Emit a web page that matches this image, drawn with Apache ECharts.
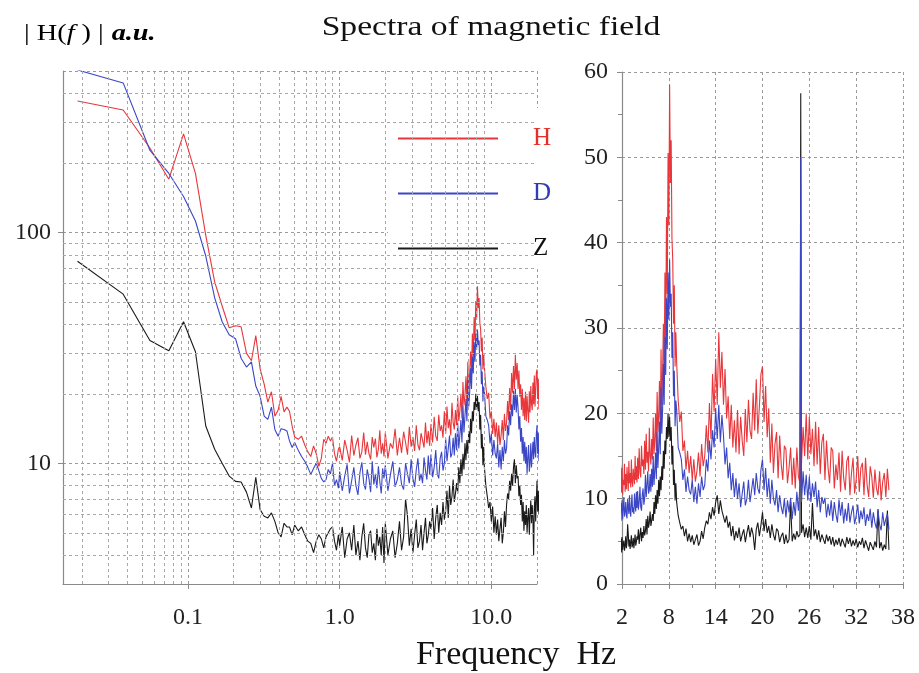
<!DOCTYPE html>
<html><head><meta charset="utf-8">
<script src="https://cdn.jsdelivr.net/npm/echarts@6/dist/echarts.min.js"></script>
<style>html,body{margin:0;padding:0;background:#fff}#c{width:919px;height:673px}</style>
</head><body><div id="c"></div>
<script>
// ---- data ----
const freqs = [
  0.0187, 0.0374, 0.0561, 0.0748, 0.0935, 0.112, 0.131, 0.150, 0.168, 0.187, 0.206, 0.224, 0.243, 0.262, 0.280, 0.299,
  0.318, 0.336, 0.355, 0.374, 0.393, 0.411, 0.430, 0.449, 0.467, 0.486, 0.505, 0.533, 0.561, 0.589, 0.617, 0.645, 0.673, 0.701, 0.729, 0.757, 0.785, 0.813, 0.841, 0.869, 0.897, 0.925, 0.953, 0.981,
  1.00, 1.04, 1.08, 1.12, 1.16, 1.20, 1.24, 1.28, 1.32, 1.36, 1.40, 1.44, 1.48, 1.52, 1.56, 1.60, 1.64, 1.68, 1.72, 1.76, 1.80, 1.84, 1.88, 1.92, 1.96,
  2.00, 2.08, 2.16, 2.24, 2.32, 2.40, 2.48, 2.56, 2.64, 2.72, 2.80, 2.88, 2.96, 3.04, 3.12, 3.20, 3.28, 3.36, 3.44, 3.52, 3.60, 3.68, 3.76, 3.84, 3.92,
  4.0, 4.1, 4.2, 4.3, 4.4, 4.5, 4.6, 4.7, 4.8, 4.9,
  5.0, 5.1, 5.2, 5.3, 5.4, 5.5, 5.6, 5.7, 5.8, 5.9,
  6.0, 6.1, 6.2, 6.3, 6.4, 6.5, 6.6, 6.7, 6.8, 6.9,
  7.0, 7.1, 7.2, 7.3, 7.4, 7.5, 7.6, 7.7, 7.8, 7.9,
  8.0, 8.1, 8.2, 8.3, 8.4, 8.5, 8.6, 8.7, 8.8, 8.9,
  9.0, 9.2, 9.4, 9.6, 9.8, 10.0, 10.2, 10.4, 10.6, 10.8, 11.0, 11.2, 11.4, 11.6, 11.8, 12.0, 12.2, 12.4, 12.6, 12.8,
  13.0, 13.2, 13.4, 13.6, 13.8, 14.0, 14.2, 14.4, 14.6, 14.8, 15.0, 15.2, 15.4, 15.6, 15.8, 16.0, 16.2, 16.4, 16.6, 16.8,
  17.0, 17.2, 17.4, 17.6, 17.8, 18.0, 18.2, 18.4, 18.6, 18.8, 19.0, 19.2, 19.4, 19.6, 19.8, 20.0, 20.2, 20.4, 20.6, 20.8,
  21.0, 21.2, 21.4, 21.6, 21.8, 22.0, 22.2, 22.4, 22.6, 22.8, 23.0, 23.2, 23.4, 23.6, 23.8, 24.0, 24.2, 24.4, 24.6, 24.8, 24.9,
  25.0, 25.2, 25.4, 25.6, 25.8, 26.0, 26.2, 26.4, 26.6, 26.8, 27.0, 27.2, 27.4, 27.6, 27.8, 28.0, 28.2, 28.4, 28.6, 28.8,
  29.0, 29.2, 29.4, 29.6, 29.8, 30.0, 30.2, 30.4, 30.6, 30.8, 31.0, 31.2, 31.4, 31.6, 31.8, 32.0, 32.2, 32.4, 32.6, 32.8,
  33.0, 33.2, 33.4, 33.6, 33.8, 34.0, 34.2, 34.4, 34.6, 34.8, 35.0, 35.2, 35.4, 35.6, 35.8, 36.0, 36.2
];
const H = [
  371, 339, 232, 170, 267, 180, 97, 61, 48, 38.6, 39.4, 39.0, 30.0, 27.8, 35.7, 25.6,
  22, 18.4, 20.4, 16, 17, 19.5, 16.7, 17.5, 16.8, 14.5, 13, 12.7, 13.1, 12.0, 11.2, 10.7, 11.9, 11.0, 9.7, 10.5, 12.7, 12.2, 13.1, 12.5, 13.0, 11.0, 10.2, 11.5,
  11.8, 10.3, 12.6, 11.4, 10.1, 13.2, 10.8, 12.0, 12.9, 10.5, 11.2, 13.6, 10.9, 12.4, 11.0, 10.4, 13.0, 11.7, 12.8, 10.6, 11.5, 13.9, 11.0, 12.2, 10.7,
  13.6, 10.5, 12.2, 11.6, 14.1, 10.8, 12.9, 11.1, 13.7, 12.3, 10.9, 14.4, 11.8, 13.0, 11.3, 14.6, 12.0, 11.4, 13.5, 12.6, 11.7, 15.0, 12.2, 13.8, 11.9,
  14.8, 12.3, 15.9, 13.1, 12.5, 16.2, 13.8, 14.6, 12.9, 16.8,
  13.4, 17.6, 14.2, 15.5, 13.2, 18.3, 15.0, 14.0, 17.0, 14.6,
  19.5, 15.2, 16.8, 20.0, 15.6, 22.5, 17.8, 19.6, 23.8, 18.0,
  27.5, 21.0, 24.6, 30.5, 25.0, 36.5, 29.0, 43.0, 34.0, 50.5,
  42.0, 58.5, 47.0, 52.0, 40.5, 38.0, 30.5, 35.0, 25.5, 29.5,
  26.0, 21.5, 19.0, 20.2, 15.6, 16.8, 13.4, 15.6, 13.0, 15.0, 12.2, 14.6, 12.0, 13.2, 15.4, 12.6, 16.4, 13.8, 15.0, 18.6,
  15.4, 21.2, 17.0, 24.6, 20.2, 26.4, 21.0, 29.5, 23.0, 27.2, 21.0, 25.2, 19.4, 22.0, 17.0, 21.0, 16.0, 19.2, 15.4, 20.4,
  15.2, 19.6, 16.8, 15.0, 20.5, 16.6, 21.6, 18.0, 17.0, 22.4, 18.0, 24.0, 17.6, 20.8, 24.6, 25.5, 19.0, 23.2, 17.2, 20.6,
  14.2, 18.8, 13.0, 16.4, 17.8, 12.4, 17.4, 14.0, 12.2, 16.2, 15.8, 11.8, 13.6, 16.0, 11.6, 14.8, 11.2, 16.0, 12.6, 11.8, 34.0,
  14.2, 18.4, 15.0, 20.0, 14.6, 19.6, 15.2, 18.2, 13.8, 19.0, 14.0, 18.4, 12.9, 16.6, 17.6, 12.2, 16.8, 13.6, 11.8, 16.0,
  15.6, 11.2, 14.0, 12.2, 15.4, 10.8, 15.6, 12.4, 11.0, 14.4, 15.0, 10.4, 13.0, 14.8, 10.6, 12.2, 15.0, 10.8, 13.6, 14.2,
  10.4, 14.8, 11.6, 10.2, 13.8, 12.6, 10.1, 13.4, 11.2, 10.4, 13.2, 9.8, 12.0, 13.0, 10.2, 13.5, 11.0
];
const D = [
  505, 444, 227, 180, 143, 112, 79, 52, 41, 36, 34.6, 28.5, 26.1, 27.5, 21.6, 19.5,
  16, 15.5, 17.5, 14, 13.1, 14.1, 14, 13.8, 12.5, 11.7, 12.3, 11.4, 10.7, 10.2, 9.6, 8.95, 9.5, 10.0, 9.3, 8.6, 8.3, 8.5, 9.4, 9.0, 10.0, 8.0, 8.5, 7.8,
  9.2, 7.6, 8.8, 9.9, 7.4, 8.4, 9.6, 8.0, 7.3, 9.1, 10.1, 8.2, 7.7, 9.4, 8.6, 7.5, 10.2, 8.1, 9.0, 7.8, 9.7, 8.3, 7.4, 9.5, 8.6,
  9.8, 7.6, 8.9, 10.2, 7.9, 8.5, 9.6, 8.1, 7.7, 10.0, 9.0, 8.2, 10.4, 8.6, 7.9, 9.4, 10.5, 8.4, 9.0, 8.2, 10.6, 9.3, 8.5, 10.8, 8.9,
  10.9, 8.7, 9.6, 11.4, 9.0, 8.6, 10.5, 11.2, 9.3, 10.0,
  12.8, 10.2, 11.6, 13.2, 10.6, 11.0, 12.9, 10.8, 13.5, 11.4,
  15.0, 11.6, 13.2, 15.4, 12.3, 17.8, 13.6, 16.0, 19.0, 15.2,
  23.0, 17.6, 20.4, 25.8, 21.0, 29.0, 24.5, 33.5, 27.5, 36.5,
  31.0, 38.0, 32.5, 34.0, 26.5, 29.5, 22.0, 25.0, 18.5, 21.5,
  20.5, 16.0, 15.4, 14.6, 12.2, 13.4, 10.8, 12.6, 11.0, 10.5, 12.2, 9.6, 11.4, 9.4, 11.8, 10.2, 12.6, 11.0, 11.6, 14.6,
  13.2, 16.8, 14.6, 18.0, 16.0, 20.6, 17.0, 21.0, 16.6, 19.8, 17.4, 14.0, 16.0, 12.4, 14.2, 11.0, 13.0, 10.2, 12.4, 10.0,
  11.8, 9.0, 10.6, 12.0, 9.2, 10.0, 12.2, 9.6, 11.0, 12.4, 10.4, 13.0, 11.2, 10.6, 13.4, 14.6, 11.0, 13.6, 10.2, 12.4,
  9.4, 12.2, 10.0, 9.2, 11.0, 8.4, 10.4, 9.0, 8.2, 10.0, 7.8, 9.8, 8.4, 10.1, 7.6, 9.6, 8.0, 10.8, 8.6, 11.6, 50.0,
  9.6, 13.2, 10.4, 12.8, 9.8, 12.6, 9.6, 11.8, 10.2, 12.0, 9.0, 11.0, 8.4, 10.2, 9.4, 10.1, 7.8, 9.4, 8.0, 9.8,
  7.4, 9.6, 8.2, 7.2, 9.9, 8.0, 9.6, 7.1, 8.8, 7.4, 9.5, 7.2, 8.4, 9.2, 7.0, 8.0, 9.3, 7.1, 8.6, 7.6,
  9.0, 6.8, 8.2, 7.4, 8.8, 6.6, 8.4, 7.2, 6.5, 8.6, 7.0, 6.3, 8.4, 6.8, 7.6, 8.2, 6.4
];
const Z = [
  75, 54, 34, 30.7, 41, 30.4, 14.5, 11.5, 10.0, 8.8, 8.35, 8.3, 7.5, 6.4, 8.7, 6.3,
  5.9, 5.8, 6.1, 5.6, 5.0, 4.8, 5.5, 5.3, 5.3, 4.9, 5.4, 5.1, 5.3, 4.9, 4.6, 4.5, 4.1, 4.6, 4.9, 4.7, 4.3, 4.8, 5.0, 5.2, 5.3, 4.6, 4.2, 4.9,
  4.4, 5.3, 3.9, 4.7, 5.0, 4.2, 5.4, 4.0, 4.6, 3.8, 4.8, 5.5, 4.3, 3.9, 4.9, 5.1, 4.1, 4.5, 3.8, 5.2, 4.4, 4.8, 4.0, 5.3, 3.7,
  5.5, 4.0, 4.7, 5.1, 3.9, 4.5, 5.6, 4.2, 4.8, 7.0, 5.9, 4.4, 5.2, 4.1, 4.9, 5.7, 4.3, 4.6, 5.4, 4.2, 5.0, 5.8, 4.5, 4.9, 5.6,
  5.2, 6.4, 4.7, 5.8, 6.6, 5.0, 6.1, 5.4, 6.8, 5.7,
  6.2, 7.6, 5.8, 8.0, 6.6, 7.2, 8.5, 6.8, 7.4, 8.2,
  7.4, 9.6, 8.2, 10.4, 8.8, 11.0, 9.4, 12.2, 10.3, 12.6,
  11.0, 13.8, 12.2, 15.6, 13.5, 16.8, 15.2, 18.4, 17.0, 20.0,
  17.2, 19.6, 16.8, 18.4, 14.0, 16.2, 11.6, 13.4, 9.8, 11.8,
  9.6, 8.0, 7.2, 6.4, 6.8, 5.6, 6.5, 5.0, 5.9, 4.9, 5.7, 4.6, 5.2, 5.8, 4.5, 5.0, 6.2, 5.3, 6.6, 7.4,
  7.0, 8.4, 7.6, 9.0, 8.0, 9.6, 10.4, 8.2, 9.8, 8.6, 8.8, 7.2, 8.0, 6.6, 7.3, 5.6, 6.8, 5.1, 6.2, 5.4,
  6.6, 5.0, 5.8, 6.4, 4.9, 6.0, 6.9, 5.5, 6.6, 5.8, 4.0, 6.4, 7.2, 5.6, 6.9, 8.4, 6.2, 7.6, 6.0, 6.8,
  5.4, 7.0, 5.8, 5.1, 6.5, 6.2, 4.9, 5.6, 6.0, 4.7, 5.8, 4.8, 5.2, 9.6, 5.0, 5.9, 5.2, 6.2, 5.5, 5.8, 57.5,
  6.0, 7.0, 5.5, 6.6, 5.4, 6.8, 5.2, 9.5, 5.6, 6.4, 5.2, 6.3, 4.9, 5.8, 5.6, 4.7, 5.8, 5.0, 5.6, 4.6,
  5.5, 4.4, 5.2, 4.6, 5.4, 4.4, 5.3, 4.8, 4.3, 5.5, 4.7, 5.4, 4.4, 5.1, 4.5, 5.3, 4.3, 5.0, 4.6, 5.4,
  4.2, 5.1, 4.5, 3.9, 4.9, 4.8, 4.0, 5.0, 4.3, 8.8, 4.2, 4.9, 3.9, 4.6, 4.1, 8.6, 4.0
];
const leftXTicks = [0.1, 1, 10];
const leftXTickLabels = ['0.1', '1.0', '10.0'];
const leftYTicks = [10, 100];
const leftYTickLabels = ['10', '100'];
const leftXMinor = [0.02, 0.03, 0.04, 0.05, 0.06, 0.07, 0.08, 0.09, 0.2, 0.3, 0.4, 0.5, 0.6, 0.7, 0.8, 0.9, 2, 3, 4, 5, 6, 7, 8, 9];
const leftYMinor = [4, 5, 6, 7, 8, 9, 20, 30, 40, 50, 60, 70, 80, 90, 200, 300, 400];
const rightXTicks = [2, 8, 14, 20, 26, 32, 38];
const rightYTicks = [0, 10, 20, 30, 40, 50, 60];
const seriesNames = ['H', 'D', 'Z'];

if (H.length !== freqs.length || D.length !== freqs.length || Z.length !== freqs.length) {
  throw new Error('length mismatch f=' + freqs.length + ' H=' + H.length + ' D=' + D.length + ' Z=' + Z.length);
}

// ---- styling ----
const FONT = "'Liberation Serif', 'Times New Roman', serif";
const colors = { H: '#e8363a', D: '#3a46c6', Z: '#1a1a1a' };
const legendText = { H: '#e3302b', D: '#2f3cb5', Z: '#111111' };
const gridLine = { show: true, lineStyle: { color: '#9a9a9a', width: 1, type: [3, 3] } };
const axisLine = { show: true, onZero: false, lineStyle: { color: '#8a8a8a', width: 1.2 } };
const labelStyle = { fontFamily: FONT, fontSize: 24, color: '#222' };

function pick(ticks, labels) {
  return function (v) {
    for (let i = 0; i < ticks.length; i++) {
      if (Math.abs(ticks[i] - v) / ticks[i] < 1e-6) return labels[i];
    }
    return '';
  };
}

function mk(name, arr, idx) {
  return {
    name: name, type: 'line', xAxisIndex: idx, yAxisIndex: idx,
    data: freqs.map((f, i) => [f, arr[i]]),
    showSymbol: false, symbol: 'none', clip: true, animation: false,
    lineStyle: { width: 1.1, color: colors[name] },
    itemStyle: { color: colors[name] },
    emphasis: { disabled: true }
  };
}

const drawOrder = ['Z', 'H', 'D'];
const src = { H: H, D: D, Z: Z };
const series = [{
  name: 'minorgrid', type: 'line', xAxisIndex: 0, yAxisIndex: 0, data: [], z: 1,
  silent: true, animation: false,
  markLine: {
    silent: true, symbol: ['none', 'none'], animation: false,
    label: { show: false },
    lineStyle: { color: '#a8a8a8', width: 1, type: [3, 3] },
    data: leftXMinor.map(v => ({ xAxis: v })).concat(leftYMinor.map(v => ({ yAxis: v })))
  }
}];
[0, 1].forEach(idx => drawOrder.forEach(n => series.push(mk(n, src[n], idx))));

const chart = echarts.init(document.getElementById('c'), null, { renderer: 'canvas' });
chart.setOption({
  backgroundColor: '#fff',
  animation: false,
  grid: [
    { left: 63, top: 71, width: 474, height: 513, containLabel: false, outerBoundsMode: 'none' },
    { left: 622, top: 72, width: 281, height: 512, containLabel: false, outerBoundsMode: 'none' }
  ],
  xAxis: [
    { type: 'log', gridIndex: 0, min: 0.015, max: 20, logBase: 10,
      axisLine: axisLine, splitLine: gridLine,
      axisTick: { show: true, length: 5, lineStyle: { color: '#8a8a8a' } },
      axisLabel: Object.assign({ margin: 22, showMinLabel: false, showMaxLabel: false, formatter: pick(leftXTicks, leftXTickLabels) }, labelStyle) },
    { type: 'value', gridIndex: 1, min: rightXTicks[0], max: rightXTicks[rightXTicks.length - 1], interval: rightXTicks[1] - rightXTicks[0],
      axisLine: axisLine, splitLine: gridLine,
      axisTick: { show: true, length: 5, lineStyle: { color: '#8a8a8a' } },
      minorTick: { show: true, splitNumber: 2, length: 4, lineStyle: { color: '#8a8a8a' } },
      axisLabel: Object.assign({ margin: 22 }, labelStyle) }
  ],
  yAxis: [
    { type: 'log', gridIndex: 0, min: 3, max: 500, logBase: 10,
      axisLine: axisLine, splitLine: gridLine,
      axisTick: { show: true, length: 5, lineStyle: { color: '#8a8a8a' } },
      axisLabel: Object.assign({ margin: 12, showMinLabel: false, showMaxLabel: false, formatter: pick(leftYTicks, leftYTickLabels) }, labelStyle) },
    { type: 'value', gridIndex: 1, min: rightYTicks[0], max: rightYTicks[rightYTicks.length - 1], interval: rightYTicks[1] - rightYTicks[0],
      axisLine: axisLine, splitLine: gridLine,
      axisTick: { show: true, length: 5, lineStyle: { color: '#8a8a8a' } },
      minorTick: { show: true, splitNumber: 2, length: 4, lineStyle: { color: '#8a8a8a' } },
      axisLabel: Object.assign({ margin: 14 }, labelStyle) }
  ],
  legend: {
    data: seriesNames.map(n => ({ name: n, textStyle: { color: legendText[n] } })),
    orient: 'vertical', left: 388, top: 108, padding: [18, 10, 7, 10],
    itemWidth: 100, itemHeight: 2, itemGap: 30, icon: 'rect',
    backgroundColor: '#fff', selectedMode: false,
    textStyle: { fontFamily: FONT, fontSize: 25, lineHeight: 24, padding: [0, 0, 0, 30] }
  },
  graphic: [
    { type: 'text', x: 491, y: 28, scaleX: 1.2, silent: true,
      style: { text: 'Spectra of magnetic field', font: '28px ' + FONT, fill: '#111', align: 'center', verticalAlign: 'middle' } },
    { type: 'text', x: 516, y: 655, silent: true,
      style: { text: 'Frequency  Hz', font: '34px ' + FONT, fill: '#111', align: 'center', verticalAlign: 'middle' } },
    { type: 'text', x: 24, y: 34, scaleX: 1.18, silent: true,
      style: { text: '{n|| H(}{i|f}{n| ) |}  {b|a.u.}', align: 'left', verticalAlign: 'middle',
        rich: {
          n: { fontFamily: FONT, fontSize: 24, color: '#111' },
          i: { fontFamily: FONT, fontSize: 24, fontStyle: 'italic', color: '#111' },
          b: { fontFamily: FONT, fontSize: 24, fontStyle: 'italic', fontWeight: 'bold', color: '#111' }
        } } }
  ],
  series: series
});
</script>
</body></html>
